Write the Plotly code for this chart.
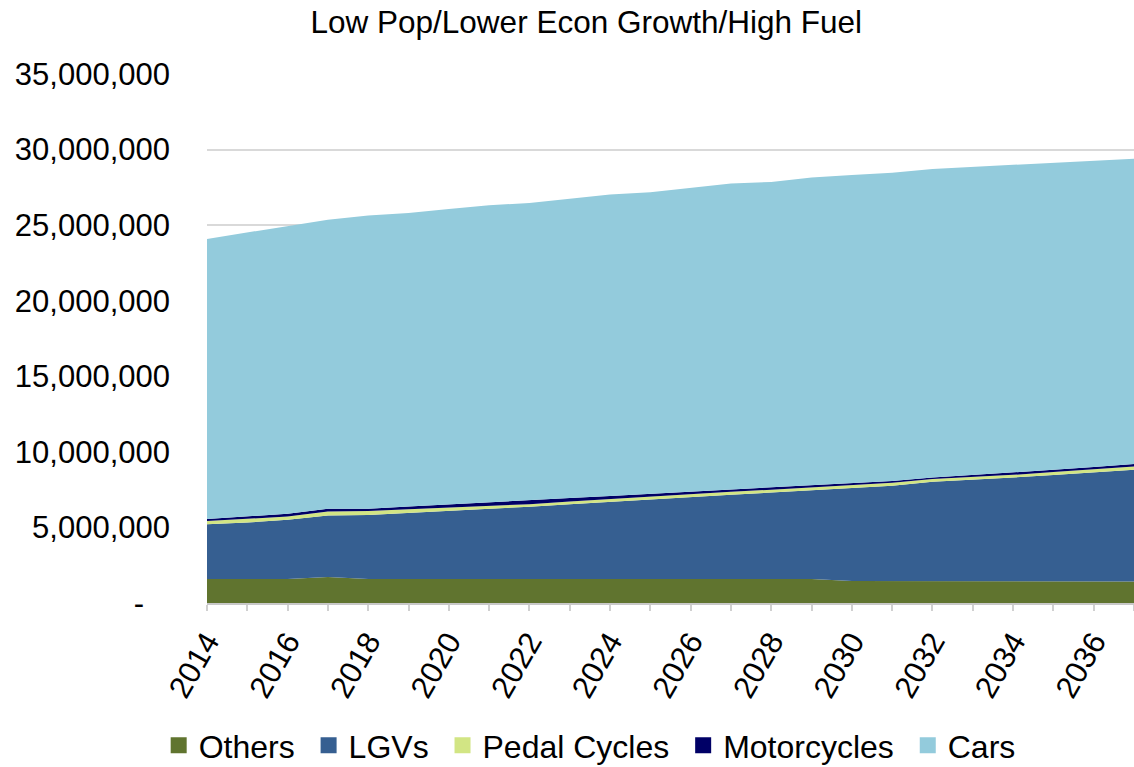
import plotly.graph_objects as go

# Traffic forecast by vehicle type, low population / lower growth / high fuel scenario
years = list(range(2014, 2038))

others = [1590000, 1590000, 1590000, 1720000, 1590000, 1590000, 1590000, 1590000,
          1590000, 1590000, 1590000, 1590000, 1590000, 1590000, 1590000, 1590000,
          1460000, 1450000, 1450000, 1440000, 1440000, 1430000, 1430000, 1420000]
lgvs = [3620000, 3740000, 3910000, 4070000, 4240000, 4370000, 4500000, 4630000,
        4780000, 4940000, 5110000, 5270000, 5430000, 5580000, 5720000, 5870000,
        6140000, 6300000, 6580000, 6720000, 6860000, 7040000, 7210000, 7390000]
pedal_cycles = [220000, 230000, 220000, 260000, 260000, 240000, 230000, 210000,
                170000, 180000, 180000, 190000, 200000, 190000, 190000, 180000,
                170000, 200000, 180000, 180000, 180000, 190000, 210000, 220000]
motorcycles = [130000, 180000, 180000, 180000, 140000, 180000, 210000, 240000,
               280000, 240000, 200000, 170000, 150000, 150000, 150000, 150000,
               160000, 130000, 90000, 120000, 150000, 150000, 150000, 160000]
cars = [18530000, 18760000, 19050000, 19130000, 19400000, 19430000, 19530000, 19640000,
        19650000, 19800000, 19940000, 19950000, 20080000, 20240000, 20210000, 20370000,
        20380000, 20380000, 20420000, 20400000, 20360000, 20320000, 20260000, 20210000]

series = [
    ("Others", others, "#60742f"),
    ("LGVs", lgvs, "#365f91"),
    ("Pedal Cycles", pedal_cycles, "#d2e584"),
    ("Motorcycles", motorcycles, "#000066"),
    ("Cars", cars, "#93cbdc"),
]

y_ticks = list(range(0, 35000001, 5000000))
y_tick_text = ["-\u00a0\u00a0\u00a0"] + [f"{v:,}" for v in y_ticks[1:]]
x_ticks = list(range(2014, 2037, 2))

font_family = "Liberation Sans, Arial, sans-serif"

fig = go.Figure()
for name, values, color in series:
    fig.add_trace(go.Scatter(
        x=years, y=values, name=name, mode="lines",
        stackgroup="vehicles", fillcolor=color,
        line=dict(width=0, color=color), showlegend=False,
    ))

# Square swatches for the legend (a little extra space after each entry but the last)
for i, (name, values, color) in enumerate(series):
    label = name if i == len(series) - 1 else name + "\u00a0"
    fig.add_trace(go.Scatter(
        x=[None], y=[None], name=label, mode="markers",
        marker=dict(symbol="square", size=18, color=color),
    ))

fig.update_layout(
    width=1134, height=767,
    margin=dict(l=207, r=0, t=74, b=164),
    paper_bgcolor="white", plot_bgcolor="white",
    font=dict(family=font_family, size=31, color="#000000"),
    title=dict(text="Low Pop/Lower Econ Growth/High Fuel",
               x=0.517, xanchor="center", xref="container",
               y=0.971, yanchor="middle", yref="container",
               font=dict(size=31.5)),
    showlegend=True,
    legend=dict(orientation="h", x=0.52, xanchor="center", xref="container",
                y=0.028, yanchor="middle", yref="container",
                font=dict(size=32), traceorder="normal",
                itemwidth=30, bgcolor="rgba(0,0,0,0)"),
    xaxis=dict(
        range=[2014, 2037], tickvals=x_ticks, ticktext=[str(v) for v in x_ticks],
        tickangle=-60, showgrid=False, zeroline=False,
        showline=True, linecolor="#c8c8c8", linewidth=2,
        ticks="outside", ticklen=6, tickcolor="#d0d0d0", tickwidth=2,
        minor=dict(dtick=1, tick0=2014, ticks="outside", ticklen=6,
                   tickcolor="#d0d0d0", tickwidth=2, showgrid=False),
        tickfont=dict(size=31),
    ),
    yaxis=dict(
        range=[0, 35000000], tickvals=y_ticks, ticktext=y_tick_text,
        showgrid=True, gridcolor="#d9d9d9", gridwidth=2,
        zeroline=False, showline=False, ticks="",
        ticklabelstandoff=36, tickfont=dict(size=31),
    ),
)

fig.write_html("out.html")
